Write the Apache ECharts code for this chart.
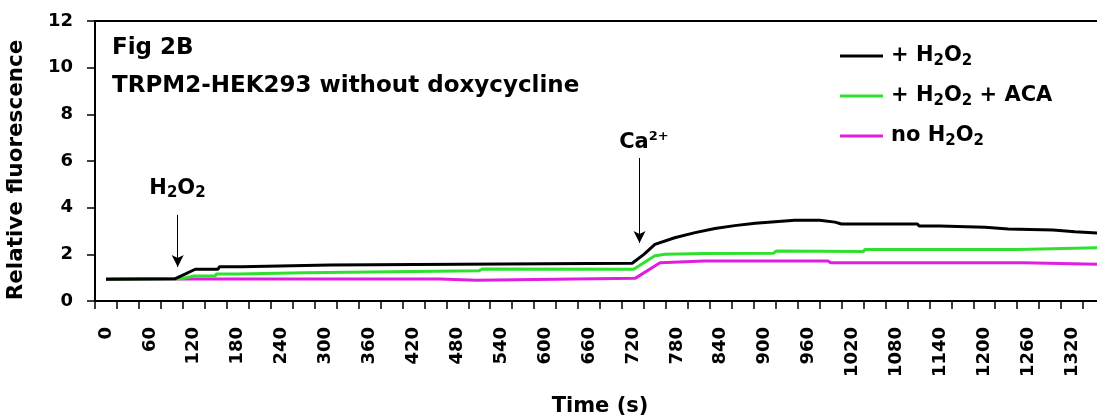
<!DOCTYPE html>
<html><head><meta charset="utf-8">
<script src="https://cdn.jsdelivr.net/npm/echarts@6/dist/echarts.min.js"></script>
<style>html,body{margin:0;padding:0;background:#fff}#c{width:1097px;height:415px}</style>
</head><body><div id="c"></div>
<script>
// Category tick labels (time, s) – one slot per 30 s, every other labelled
const categories = ['0','30','60','90','120','150','180','210','240','270','300','330','360','390','420','450','480','510','540','570','600','630','660','690','720','750','780','810','840','870','900','930','960','990','1020','1050','1080','1110','1140','1170','1200','1230','1260','1290','1320','1350'];

// + H2O2 (black)
const tBlack = [0,94,108,122,153,155,185,187,306,308,719,735,750,777,805,832,859,887,914,941,975,996,1005,1109,1111,1139,1141,1201,1203,1233,1235,1294,1296,1324,1326,1360];
const vBlack = [0.93,0.95,1.15,1.36,1.36,1.47,1.47,1.54,1.54,1.62,1.62,2.0,2.43,2.71,2.93,3.11,3.23,3.33,3.40,3.46,3.46,3.38,3.30,3.30,3.21,3.21,3.16,3.16,3.09,3.09,3.04,3.04,2.97,2.97,2.90,2.90];

// + H2O2 + ACA (green)
const tGreen = [0,103,120,149,151,181,183,272,274,510,514,721,750,764,818,912,916,1035,1037,1246,1248,1360];
const vGreen = [0.93,0.95,1.07,1.07,1.16,1.16,1.21,1.21,1.29,1.30,1.37,1.36,1.94,2.0,2.04,2.05,2.14,2.12,2.21,2.21,2.29,2.29];

// no H2O2 (magenta)
const tMagenta = [0,456,458,506,508,723,757,818,987,990,1253,1255,1360];
const vMagenta = [0.94,0.94,0.89,0.89,0.96,0.97,1.64,1.71,1.71,1.64,1.64,1.57,1.57];

const seriesNames = ['+ H2O2', '+ H2O2 + ACA', 'no H2O2'];
const seriesColors = ['#000000', '#2fe02f', '#e01ee0'];

// annotations: [time, value]
const h2o2Arrow = [[98, 3.69], [98, 1.46]];
const caArrow = [[729, 6.13], [729, 2.49]];
const h2o2Label = [97.7, 4.84];
const caLabel = [735, 6.77];

const FONT = 'DejaVu Sans';
const pair = (t, v) => t.map((x, i) => [x, v[i]]);

const legendRich = {
  m: { fontFamily: FONT, fontWeight: 'bold', fontSize: 21, lineHeight: 26, color: '#000' },
  s: { fontFamily: FONT, fontWeight: 'bold', fontSize: 15, lineHeight: 12, verticalAlign: 'bottom', color: '#000' }
};
const legendFmt = {
  '+ H2O2': '{m|+ H}{s|2}{m|O}{s|2}',
  '+ H2O2 + ACA': '{m|+ H}{s|2}{m|O}{s|2}{m| + ACA}',
  'no H2O2': '{m|no H}{s|2}{m|O}{s|2}'
};

const chart = echarts.init(document.getElementById('c'), null, { renderer: 'canvas' });
const option = {
  animation: false,
  backgroundColor: '#fff',
  title: [
    { text: 'Fig 2B', left: 107, top: 32, textStyle: { fontFamily: FONT, fontWeight: 'bold', fontSize: 23, color: '#000' } },
    { text: 'TRPM2-HEK293 without doxycycline', left: 107, top: 70, textStyle: { fontFamily: FONT, fontWeight: 'bold', fontSize: 23, color: '#000' } }
  ],
  legend: {
    orient: 'vertical', left: 835, top: 40.5, itemGap: 16.5,
    itemWidth: 43, itemHeight: 3, icon: 'rect',
    data: seriesNames,
    formatter: n => legendFmt[n],
    textStyle: { rich: legendRich, padding: [0, 0, 0, 3] }
  },
  grid: { left: 95, right: -8, top: 21, bottom: 114, show: true, borderColor: '#000', borderWidth: 2, outerBoundsMode: 'none', containLabel: false },
  xAxis: [
    {
      type: 'category', data: categories, boundaryGap: true,
      axisLine: { show: true, onZero: false, lineStyle: { color: '#000', width: 2 } },
      axisTick: { show: true, interval: 0, length: 8, lineStyle: { color: '#000', width: 1.5 } },
      axisLabel: { interval: 1, rotate: 90, margin: 26, fontFamily: FONT, fontWeight: 'bold', fontSize: 18, color: '#000' },
      splitLine: { show: false },
      name: 'Time (s)', nameLocation: 'middle', nameGap: 95,
      nameTextStyle: { fontFamily: FONT, fontWeight: 'bold', fontSize: 21, color: '#000' }
    },
    { type: 'value', min: -15, max: 1365, show: false, axisLine: { onZero: false }, splitLine: { show: false } }
  ],
  yAxis: {
    type: 'value', min: 0, max: 12, interval: 2,
    axisLine: { show: true, onZero: false, lineStyle: { color: '#000', width: 2 } },
    axisTick: { show: true, length: 8, lineStyle: { color: '#000', width: 1.5 } },
    axisLabel: { margin: 22, fontFamily: FONT, fontWeight: 'bold', fontSize: 18, color: '#000' },
    splitLine: { show: false },
    name: 'Relative fluorescence', nameLocation: 'middle', nameGap: 68, nameRotate: 90,
    nameTextStyle: { fontFamily: FONT, fontWeight: 'bold', fontSize: 21.5, color: '#000', padding: [0, 18, 0, 0] }
  },
  series: [
    {
      name: seriesNames[0], type: 'line', xAxisIndex: 1, data: pair(tBlack, vBlack),
      symbol: 'none', color: seriesColors[0], lineStyle: { width: 3, color: seriesColors[0] }, z: 5,
      markLine: {
        silent: true, symbol: ['none', 'arrow'], symbolSize: [9, 12],
        lineStyle: { color: '#000', width: 1, type: 'solid' }, label: { show: false },
        data: [
          [{ coord: h2o2Arrow[0] }, { coord: h2o2Arrow[1] }],
          [{ coord: caArrow[0] }, { coord: caArrow[1] }]
        ]
      },
      markPoint: {
        silent: true, symbol: 'circle', symbolSize: 0,
        label: { show: true, position: 'inside', color: '#000', rich: {
          m: { fontFamily: FONT, fontWeight: 'bold', fontSize: 21, lineHeight: 26, color: '#000' },
          s: { fontFamily: FONT, fontWeight: 'bold', fontSize: 15, lineHeight: 12, verticalAlign: 'bottom', color: '#000' },
          p: { fontFamily: FONT, fontWeight: 'bold', fontSize: 13, lineHeight: 12, verticalAlign: 'top', color: '#000' }
        } },
        data: [
          { coord: h2o2Label, label: { formatter: '{m|H}{s|2}{m|O}{s|2}' } },
          { coord: caLabel, label: { formatter: '{m|Ca}{p|2+}' } }
        ]
      }
    },
    { name: seriesNames[1], type: 'line', xAxisIndex: 1, data: pair(tGreen, vGreen), symbol: 'none', color: seriesColors[1], lineStyle: { width: 3, color: seriesColors[1] }, z: 4 },
    { name: seriesNames[2], type: 'line', xAxisIndex: 1, data: pair(tMagenta, vMagenta), symbol: 'none', color: seriesColors[2], lineStyle: { width: 3, color: seriesColors[2] }, z: 3 }
  ]
};
chart.setOption(option);
</script></body></html>
